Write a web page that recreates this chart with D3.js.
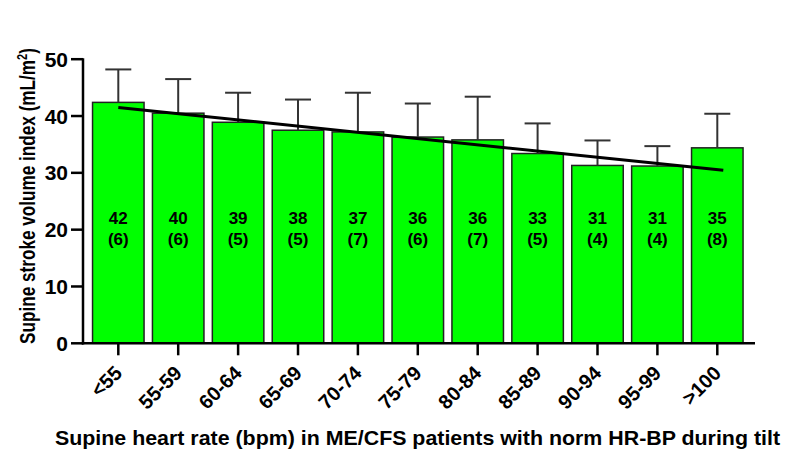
<!DOCTYPE html>
<html>
<head>
<meta charset="utf-8">
<script src="https://cdn.jsdelivr.net/npm/d3@7"></script>
<style>
    body { margin: 0; background: #fff; }
    svg text { font-family: Arial, "Liberation Sans", sans-serif; font-weight: bold; fill: #000; }
</style>
</head>
<body>
<script>
(function(){
    // chart data
    var categories = ["<55", "55-59", "60-64", "65-69", "70-74", "75-79", "80-84", "85-89", "90-94", "95-99", ">100"];
    var means = [42.4, 40.5, 38.9, 37.5, 37.2, 36.3, 35.8, 33.4, 31.3, 31.2, 34.4];
    var sds = [5.8, 6.0, 5.2, 5.4, 6.9, 5.9, 7.6, 5.3, 4.4, 3.5, 6.0];
    var meanLabels = ["42", "40", "39", "38", "37", "36", "36", "33", "31", "31", "35"];
    var counts = [6, 6, 5, 5, 7, 6, 7, 5, 4, 4, 8];
    var yTicks = [0, 10, 20, 30, 40, 50];
    // regression line end values (first and last group)
    var trendValues = [41.5, 30.45];

    var width = 785,
        height = 455;

    var svg = d3.select("body")
        .append("svg")
        .attr("width", width)
        .attr("height", height);

    var x = d3.scaleBand()
        .domain(categories)
        .range([88.35, 747.25])
        .paddingInner(0.14)
        .paddingOuter(0.07);

    var y = d3.scaleLinear()
        .domain([0, 50])
        .range([343.3, 59.2]);

    var axisLeft = 83,
        axisRight = 755;

    function cx(i){
        return x(categories[i]) + x.bandwidth() / 2;
    }

    // bars
    svg.selectAll(".bars")
        .data(means)
        .enter()
        .append("rect")
        .attr("class", "bars")
        .attr("x", function(d, i){ return x(categories[i]); })
        .attr("width", x.bandwidth())
        .attr("y", function(d){ return y(d); })
        .attr("height", function(d){ return y(0) - y(d); })
        .attr("fill", "#00ff00")
        .attr("stroke", "#222")
        .attr("stroke-width", 1.5);

    // error bars (upper only)
    var capHalf = 13;
    var err = svg.selectAll(".err")
        .data(means)
        .enter()
        .append("g")
        .attr("class", "err")
        .attr("stroke", "#333")
        .attr("stroke-width", 2);

    err.append("line")
        .attr("x1", function(d, i){ return cx(i); })
        .attr("x2", function(d, i){ return cx(i); })
        .attr("y1", function(d){ return y(d); })
        .attr("y2", function(d, i){ return y(d + sds[i]); });

    err.append("line")
        .attr("x1", function(d, i){ return cx(i) - capHalf; })
        .attr("x2", function(d, i){ return cx(i) + capHalf; })
        .attr("y1", function(d, i){ return y(d + sds[i]); })
        .attr("y2", function(d, i){ return y(d + sds[i]); });

    // trend line
    svg.append("line")
        .attr("x1", cx(0))
        .attr("y1", y(trendValues[0]))
        .attr("x2", cx(categories.length - 1) + 6)
        .attr("y2", y(trendValues[1]))
        .attr("stroke", "#000")
        .attr("stroke-width", 3);

    // labels inside the bars
    var labels = svg.selectAll(".barLabel")
        .data(meanLabels)
        .enter()
        .append("text")
        .attr("class", "barLabel")
        .attr("text-anchor", "middle")
        .style("font-size", "17px");

    labels.append("tspan")
        .attr("x", function(d, i){ return cx(i); })
        .attr("y", 224)
        .text(function(d){ return d; });

    labels.append("tspan")
        .attr("x", function(d, i){ return cx(i); })
        .attr("y", 245)
        .text(function(d, i){ return "(" + counts[i] + ")"; });

    // y axis
    svg.append("line")
        .attr("x1", axisLeft).attr("x2", axisLeft)
        .attr("y1", y(50) - 1).attr("y2", y(0) + 1.25)
        .attr("stroke", "#000").attr("stroke-width", 2.5);

    var yt = svg.selectAll(".ytick")
        .data(yTicks)
        .enter()
        .append("g")
        .attr("class", "ytick")
        .attr("transform", function(d){ return "translate(0," + y(d) + ")"; });

    yt.append("line")
        .attr("x1", 71).attr("x2", axisLeft)
        .attr("stroke", "#000").attr("stroke-width", 2.5);

    yt.append("text")
        .attr("x", 68)
        .attr("dy", "0.36em")
        .attr("text-anchor", "end")
        .style("font-size", "21px")
        .text(function(d){ return d; });

    // x axis
    svg.append("line")
        .attr("x1", axisLeft - 1.25).attr("x2", axisRight)
        .attr("y1", y(0)).attr("y2", y(0))
        .attr("stroke", "#000").attr("stroke-width", 2.5);

    var xt = svg.selectAll(".xtick")
        .data(categories)
        .enter()
        .append("g")
        .attr("class", "xtick")
        .attr("transform", function(d, i){ return "translate(" + cx(i) + "," + y(0) + ")"; });

    xt.append("line")
        .attr("y1", 0).attr("y2", 12)
        .attr("stroke", "#000").attr("stroke-width", 2.5);

    xt.append("text")
        .attr("text-anchor", "end")
        .attr("transform", "translate(5,31) rotate(-45)")
        .style("font-size", "20px")
        .text(function(d){ return d; });

    // axis titles
    svg.append("text")
        .attr("transform", "translate(35,196) rotate(-90) scale(0.78,1)")
        .attr("text-anchor", "middle")
        .style("font-size", "22px")
        .html("Supine stroke volume index (mL/m<tspan dy='-8' style='font-size:14px'>2</tspan><tspan dy='8'>)</tspan>");

    svg.append("text")
        .attr("x", 417.5)
        .attr("y", 445)
        .attr("text-anchor", "middle")
        .attr("textLength", 725)
        .attr("lengthAdjust", "spacingAndGlyphs")
        .style("font-size", "21px")
        .text("Supine heart rate (bpm) in ME/CFS patients with norm HR-BP during tilt");
})();
</script>
</body>
</html>
